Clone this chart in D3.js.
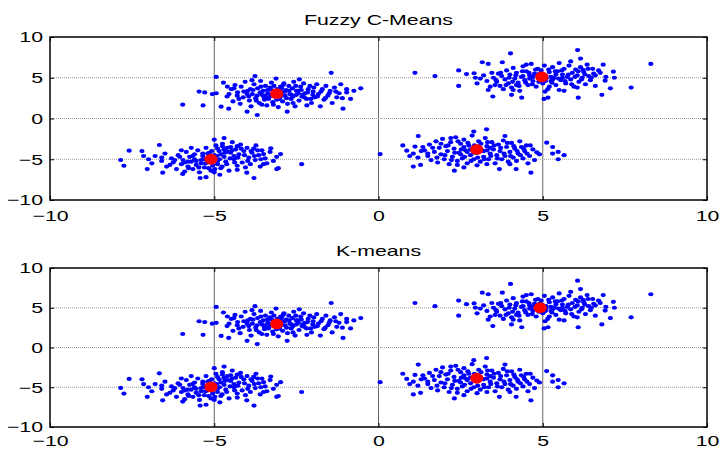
<!doctype html>
<html>
<head>
    <meta charset="UTF-8">
    <title>fcm vs kmeans</title>
    <script src="https://d3js.org/d3.v7.min.js"></script>
    <style>
        body{ margin:0; background:#fff; }
        text{ font-family:"Liberation Sans", Arial, sans-serif; }
    </style>
</head>
<body>
    <svg id="chart" width="721" height="450"></svg>

    <script>
        // tick labels
        var xTicks = [-10, -5, 0, 5, 10];
        var yTicks = [-10, -5, 0, 5, 10];
        var gridTicks = [-5, 0, 5];
        var titles = ["Fuzzy C-Means", "K-means"];

        // cluster centres found by each method
        var fcmCenters = [[-3.1, 3.05], [-5.1, -5.0], [4.97, 5.1], [2.99, -3.8]];
        var kmCenters  = [[-3.1, 2.96], [-5.1, -4.96], [4.92, 5.0], [2.99, -3.87]];

        // the sample points (same data in both panels)
        var clusterA = [
            [-5.96,1.7],[-5.34,1.6],[-5.46,3.3],[-5.29,3.2],[-5.06,3.0],[-4.94,3.1],[-4.94,5.1],[-4.79,1.45],
            [-4.56,1.2],[-4.0,0.84],[-3.69,0.43],[-3.76,5.2],[-2.78,0.84],[-2.41,4.8],[-2.18,1.6],[-1.44,5.6],
            [-1.08,1.2],[-0.97,3.6],[-0.97,3.2],[-0.54,3.7],[-1.1,2.5],
            [-4.72,4.4],[-4.61,2.7],[-4.48,3.6],[-4.43,2.1],[-4.37,4.1],[-4.29,3.2],[-4.21,1.8],[-4.18,3.9],
            [-4.12,2.6],[-4.06,4.5],[-3.98,3.4],[-3.93,2.2],[-3.88,1.5],[-3.84,3.0],[-3.79,4.2],[-3.74,2.5],
            [-3.68,3.7],[-3.63,1.9],[-3.59,4.6],[-3.55,2.9],[-3.51,3.4],[-3.47,2.3],[-3.44,4.0],[-3.4,1.6],
            [-3.37,3.1],[-3.33,2.6],[-3.3,3.8],[-3.26,4.4],[-3.22,2.0],[-3.19,3.3],[-3.15,2.7],[-3.12,4.9],
            [-3.08,3.6],[-3.05,1.4],[-3.02,2.4],[-2.98,3.9],[-2.95,3.2],[-2.92,2.1],[-2.88,4.3],[-2.85,2.8],
            [-2.81,3.5],[-2.77,1.8],[-2.73,4.0],[-2.7,3.0],[-2.66,2.4],[-2.62,3.7],[-2.58,4.5],[-2.54,1.5],
            [-2.5,2.9],[-2.46,3.4],[-2.42,2.2],[-2.37,3.9],[-2.33,2.7],[-2.28,4.3],[-2.24,3.1],[-2.19,2.4],
            [-2.14,3.6],[-2.09,4.0],[-2.04,1.9],[-1.99,3.3],[-1.94,2.6],[-1.88,4.2],[-1.83,3.0],[-1.77,1.5],
            [-1.71,3.6],[-1.66,2.3],[-1.6,4.0],[-1.54,2.8],[-1.47,3.4],[-1.41,1.9],[-1.34,3.8],[-1.27,2.6],
            [-1.2,3.1],[-1.15,4.2],[-0.85,2.4],[-0.75,3.4],
            [-3.6,3.2],[-3.45,2.8],[-3.25,3.5],[-3.0,2.6],[-2.85,3.3],[-2.65,2.9],[-3.35,2.4],[-2.95,3.7],
            [-3.7,2.8],[-2.5,3.4],[-4.0,3.0],[-2.3,2.9],[-3.9,3.6],[-2.0,2.9],[-4.3,2.8],
            [-4.55,3.0],[-4.4,3.7],[-4.25,2.4],[-4.1,3.3],[-3.95,2.7],[-3.82,3.5],[-3.72,2.2],[-3.58,3.9],
            [-3.48,2.6],[-3.38,3.5],[-3.28,2.9],[-3.18,4.0],[-3.1,2.3],[-3.03,3.4],[-2.96,2.9],[-2.9,4.1],
            [-2.8,2.5],[-2.72,3.4],[-2.6,2.7],[-2.52,4.0],[-2.44,3.1],[-2.35,3.5],[-2.26,2.6],[-2.16,3.2],
            [-2.06,2.4],[-1.97,3.8],[-1.86,2.7],[-1.75,3.3],[-1.62,2.5],[-1.5,3.1],[-3.85,4.7],[-3.2,1.7],
            [-2.6,1.9],[-4.6,3.9],[-3.55,1.7],[-1.3,3.3]
        ];
        var clusterB = [
            [-7.85,-5.09],[-7.75,-5.8],[-7.59,-3.95],[-7.2,-4.0],[-7.15,-4.6],[-7.04,-6.2],[-6.67,-3.25],[-6.57,-6.65],
            [-5.96,-6.8],[-5.43,-7.3],[-5.25,-7.2],[-4.83,-6.9],[-4.7,-2.4],[-5.0,-2.6],[-4.01,-6.65],[-3.79,-7.3],
            [-3.73,-3.3],[-3.5,-4.36],[-3.28,-3.66],[-2.98,-4.36],[-3.05,-6.1],[-3.1,-6.2],[-2.34,-5.6],
            [-7.0,-5.0],[-6.9,-5.5],[-6.8,-4.6],[-6.6,-5.2],[-6.5,-4.3],[-6.45,-5.9],[-6.3,-4.9],[-6.25,-5.4],
            [-6.15,-6.2],[-6.1,-4.5],[-6.0,-5.6],[-5.95,-5.1],[-5.9,-6.5],[-5.85,-4.1],[-5.8,-5.9],[-5.75,-4.7],
            [-5.7,-5.3],[-5.65,-6.2],[-5.6,-4.4],[-5.55,-5.7],[-5.5,-3.9],[-5.45,-6.6],[-5.4,-5.1],[-5.35,-4.6],
            [-5.3,-6.0],[-5.25,-3.6],[-5.2,-5.4],[-5.15,-4.2],[-5.1,-6.4],[-5.05,-5.8],[-5.0,-4.5],[-4.95,-3.3],
            [-4.9,-5.6],[-4.85,-4.0],[-4.8,-6.1],[-4.75,-3.1],[-4.7,-4.7],[-4.65,-5.3],[-4.6,-3.6],[-4.55,-6.4],
            [-4.5,-4.2],[-4.45,-2.9],[-4.4,-5.0],[-4.35,-3.8],[-4.3,-5.8],[-4.25,-4.4],[-4.2,-3.2],[-4.15,-5.4],
            [-4.1,-4.0],[-4.05,-6.0],[-4.0,-3.6],[-3.95,-4.8],[-3.9,-5.6],[-3.85,-4.2],[-3.8,-3.7],[-3.75,-5.1],
            [-3.65,-4.5],[-3.6,-5.9],[-3.55,-3.9],[-3.45,-4.9],[-3.4,-5.5],[-3.3,-4.1],[-3.2,-5.2],[-3.1,-4.7],
            [-5.3,-5.0],[-5.1,-4.7],[-4.9,-5.2],[-5.2,-4.3],[-4.8,-4.4],[-4.7,-3.8],[-4.5,-3.5],[-4.4,-4.6],
            [-4.3,-3.4],[-4.6,-4.1],[-4.9,-3.7],[-5.4,-5.5],[-5.6,-5.0],[-5.8,-5.3],
            [-6.2,-5.1],[-6.05,-4.7],[-5.9,-5.4],[-5.78,-6.1],[-5.66,-4.6],[-5.55,-5.2],[-5.47,-6.0],[-5.35,-4.3],
            [-5.27,-5.5],[-5.17,-6.1],[-5.08,-4.0],[-4.98,-6.2],[-4.92,-4.6],[-4.84,-5.0],[-4.76,-5.9],[-4.68,-4.2],
            [-4.62,-5.6],[-4.52,-4.9],[-4.46,-3.9],[-4.38,-5.4],[-4.28,-4.8],[-4.18,-3.7],[-4.08,-4.5],[-3.98,-5.2],
            [-3.88,-4.0],[-3.78,-4.6],[-3.68,-3.9],[-3.58,-5.0],[-6.35,-5.7],[-6.6,-4.8],[-6.0,-3.9],[-5.7,-3.6],
            [-5.0,-6.6],[-4.3,-6.3],[-3.5,-5.6],[-4.75,-3.4]
        ];
        var clusterC = [
            [1.11,5.6],[1.72,5.2],[2.44,5.9],[2.44,4.0],[2.68,5.45],[2.91,5.55],[3.16,6.9],[3.34,6.7],
            [3.77,6.9],[4.02,8.0],[3.48,2.7],[4.36,2.55],[5.04,2.4],[5.16,2.55],[6.06,8.4],[6.15,7.35],
            [6.08,2.55],[6.8,2.9],[6.84,6.6],[7.15,5.74],[6.92,5.1],[7.18,5.0],[6.9,4.64],[7.06,3.7],
            [7.69,3.8],[8.29,6.7],[6.52,6.1],[6.23,5.98],[5.65,3.4],[5.5,3.5],[6.05,3.8],[5.07,3.3],
            [3.34,3.5],[3.55,4.1],[4.05,2.9],[4.2,4.1],
            [3.5,5.0],[3.6,4.5],[3.65,5.5],[3.7,4.0],[3.75,5.2],[3.8,3.6],[3.85,4.8],[3.9,5.9],
            [3.95,4.3],[4.0,5.4],[4.05,3.8],[4.1,6.2],[4.15,4.9],[4.2,5.6],[4.25,4.4],[4.3,3.4],
            [4.35,5.1],[4.4,6.4],[4.45,4.7],[4.5,5.8],[4.55,4.1],[4.6,5.3],[4.65,6.7],[4.7,4.6],
            [4.75,5.5],[4.8,3.9],[4.85,6.1],[4.9,4.8],[4.95,5.9],[5.0,4.3],[5.05,6.5],[5.1,5.2],
            [5.15,3.6],[5.2,5.7],[5.25,4.6],[5.3,6.3],[5.35,5.0],[5.4,4.1],[5.45,5.8],[5.5,6.8],
            [5.55,4.7],[5.6,5.4],[5.65,6.1],[5.7,4.3],[5.75,5.1],[5.8,6.5],[5.85,4.8],[5.9,5.6],
            [5.95,3.9],[6.0,6.0],[6.05,5.3],[6.1,4.5],[6.15,6.3],[6.2,5.0],[6.25,5.7],[6.3,4.2],
            [6.35,6.6],[6.4,5.2],[6.45,4.7],[6.55,5.5],[6.6,4.0],[6.7,5.9],[3.3,4.6],[3.2,5.3],
            [3.1,4.9],[2.95,5.0],[3.4,3.9],[3.0,4.3],
            [4.7,5.1],[4.85,5.3],[5.1,4.9],[5.25,5.1],[4.6,4.9],[5.4,5.4],[4.4,5.2],[5.6,5.0],
            [4.9,5.5],[5.3,4.8],
            [3.58,4.7],[3.72,5.6],[3.88,4.1],[3.98,5.0],[4.08,4.5],[4.18,5.3],[4.28,4.0],[4.38,5.8],
            [4.48,4.4],[4.58,5.6],[4.68,4.2],[4.78,6.0],[4.88,4.5],[4.98,5.4],[5.08,4.6],[5.18,6.0],
            [5.28,4.4],[5.38,5.8],[5.48,4.9],[5.58,5.9],[5.68,4.6],[5.78,5.4],[5.88,4.2],[5.98,5.1],
            [6.08,5.8],[6.18,4.8],[6.28,5.4],[6.38,6.1],[6.48,5.0],[6.6,5.3],[4.5,6.6],[5.2,3.9],
            [4.1,3.5],[5.85,7.0],[3.45,5.6],[6.75,5.6]
        ];
        var clusterD = [
            [0.05,-4.36],[0.74,-3.3],[0.86,-3.95],[1.06,-4.3],[1.11,-3.45],[1.21,-2.15],[1.06,-5.9],[1.28,-5.7],
            [2.31,-6.4],[2.6,-6.0],[3.29,-1.33],[2.9,-1.6],[3.85,-2.15],[4.3,-2.8],[4.5,-3.3],[4.82,-4.15],
            [5.12,-2.97],[5.3,-3.5],[5.47,-4.1],[5.65,-4.5],[5.47,-5.0],[4.64,-6.65],[4.19,-6.2],[3.68,-6.2],
            [3.0,-5.75],[4.2,-5.2],[5.3,-4.3],
            [1.4,-3.9],[1.5,-4.6],[1.55,-3.2],[1.6,-5.1],[1.7,-4.1],[1.75,-2.8],[1.8,-5.4],[1.85,-3.6],
            [1.9,-4.4],[1.95,-2.5],[2.0,-5.0],[2.05,-3.4],[2.1,-4.0],[2.15,-5.6],[2.2,-2.9],[2.25,-4.7],
            [2.3,-3.7],[2.35,-2.3],[2.4,-5.2],[2.45,-4.2],[2.5,-3.1],[2.55,-4.9],[2.6,-2.6],[2.65,-3.9],
            [2.7,-5.5],[2.75,-3.3],[2.8,-4.5],[2.85,-2.1],[2.9,-5.0],[2.95,-3.6],[3.0,-4.2],[3.05,-2.8],
            [3.1,-5.3],[3.15,-3.9],[3.2,-4.7],[3.25,-2.4],[3.3,-3.4],[3.35,-5.0],[3.4,-4.3],[3.45,-2.9],
            [3.5,-3.8],[3.55,-5.5],[3.6,-4.5],[3.65,-3.2],[3.7,-4.0],[3.75,-5.0],[3.8,-2.7],[3.85,-4.6],
            [3.9,-3.5],[3.95,-5.3],[4.0,-4.1],[4.05,-3.0],[4.1,-4.8],[4.15,-3.7],[4.25,-4.3],[4.35,-3.5],
            [4.4,-4.9],[4.45,-4.0],[4.55,-5.5],[4.6,-4.6],[4.7,-3.8],[4.75,-5.1],[4.9,-4.4],[1.2,-4.8],
            [1.3,-4.0],[0.95,-4.6],
            [2.8,-3.8],[3.0,-3.5],[3.2,-4.0],[2.7,-4.1],[3.1,-3.7],[2.9,-4.2],[3.3,-3.9],[2.6,-3.5],
            [3.4,-3.6],[2.5,-4.4],
            [1.65,-3.6],[1.78,-4.8],[1.9,-3.1],[2.02,-4.5],[2.12,-3.3],[2.22,-5.1],[2.32,-4.2],[2.42,-2.8],
            [2.52,-3.8],[2.62,-4.7],[2.72,-3.0],[2.82,-5.2],[2.92,-3.3],[3.02,-4.8],[3.12,-3.1],[3.22,-5.0],
            [3.32,-2.9],[3.42,-4.6],[3.52,-3.3],[3.62,-4.9],[3.72,-3.6],[3.82,-4.3],[3.92,-3.0],[4.02,-4.6],
            [4.12,-3.4],[4.22,-4.0],[4.32,-4.5],[4.42,-3.7],[4.52,-4.3],[4.62,-3.3],[1.5,-4.3],[2.4,-5.7],
            [3.3,-5.6],[4.0,-5.6],[1.35,-3.5],[2.2,-2.4]
        ];
        var points = clusterA.concat(clusterB, clusterC, clusterD);

        var left = 50, right = 707;
        var stretch = 1.42;   // the picture is wider than tall, text too
        var panels = [
            { title: titles[0], centers: fcmCenters, top: 37, bottom: 200 },
            { title: titles[1], centers: kmCenters, top: 268, bottom: 427 }
        ];

        var svg = d3.select("#chart");
        var x = d3.scaleLinear().domain([-10, 10]).range([left, right]);

        panels.forEach(function(p, k){
            var y = d3.scaleLinear().domain([-10, 10]).range([p.bottom, p.top]);
            var g = svg.append("g");

            // grid
            g.selectAll(".vgrid").data(gridTicks).enter().append("line")
             .attr("x1", function(d){ return x(d); })
             .attr("x2", function(d){ return x(d); })
             .attr("y1", p.top).attr("y2", p.bottom)
             .attr("stroke", "#666").attr("stroke-width", 1);
            g.selectAll(".hgrid").data(gridTicks).enter().append("line")
             .attr("x1", left).attr("x2", right)
             .attr("y1", function(d){ return y(d); })
             .attr("y2", function(d){ return y(d); })
             .attr("stroke", "#999").attr("stroke-width", 1)
             .attr("stroke-dasharray", "1,1");

            // data points
            g.selectAll(".pt").data(points).enter().append("ellipse")
             .attr("cx", function(d){ return x(d[0]); })
             .attr("cy", function(d){ return y(d[1]); })
             .attr("rx", 2.6).attr("ry", 2.1)
             .attr("fill", "#0000ff");

            // centres
            g.selectAll(".ctr").data(p.centers).enter().append("ellipse")
             .attr("cx", function(d){ return x(d[0]); })
             .attr("cy", function(d){ return y(d[1]); })
             .attr("rx", 6.6).attr("ry", 5.4)
             .attr("fill", "#ff0000");

            // axes, ticks pointing inwards
            var style = function(sel){
                sel.select(".domain").remove();
                sel.selectAll("text").attr("font-size", 15)
                   .attr("font-family", "'Liberation Sans', Arial, sans-serif")
                   .attr("fill", "#000")
                   .attr("transform", "scale(" + stretch + ",1)");
                sel.selectAll("line").attr("stroke", "#000");
            };
            var pad = k == 0 ? 10 : 8;
            g.append("g").attr("transform", "translate(0," + p.bottom + ")")
             .call(d3.axisBottom(x).tickValues(xTicks).tickSize(-4).tickPadding(pad))
             .call(style);
            var yAxis = g.append("g").attr("transform", "translate(" + left + ",0)")
             .call(d3.axisLeft(y).tickValues(yTicks).tickSize(-4).tickPadding(7))
             .call(style);
            yAxis.selectAll("text").attr("x", -7 / stretch);
            g.append("g").attr("transform", "translate(0," + p.top + ")")
             .call(d3.axisTop(x).tickValues(xTicks).tickSize(-4).tickFormat(""))
             .call(style);
            g.append("g").attr("transform", "translate(" + right + ",0)")
             .call(d3.axisRight(y).tickValues(yTicks).tickSize(-4).tickFormat(""))
             .call(style);

            // box
            g.append("rect")
             .attr("x", left).attr("y", p.top)
             .attr("width", right - left).attr("height", p.bottom - p.top)
             .attr("fill", "none").attr("stroke", "#000").attr("stroke-width", 1.5);

            // title
            g.append("text")
             .attr("transform", "translate(" + ((left + right) / 2) + "," + (p.top - 12) + ") scale(" + stretch + ",1)")
             .attr("text-anchor", "middle")
             .attr("font-size", 15)
             .text(p.title);
        });
    </script>
</body>
</html>
